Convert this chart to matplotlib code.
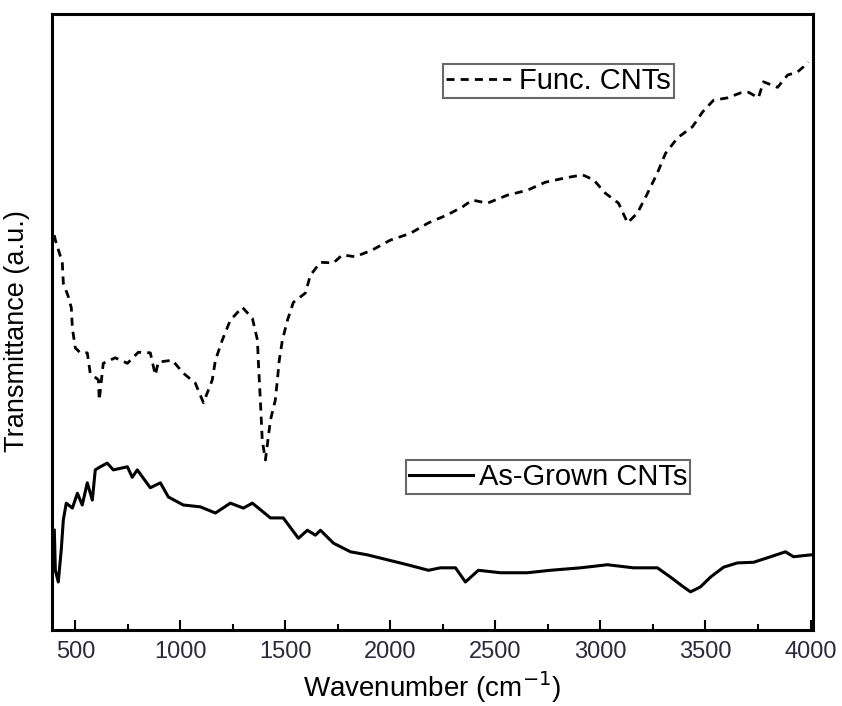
import numpy as np
import matplotlib
matplotlib.use("Agg")
import matplotlib.pyplot as plt

# FTIR spectra
func_wn = [400, 405, 438, 443, 467, 481, 486, 500, 524, 557, 571, 610, 614, 633, 690, 748,
           800, 857, 881, 895, 962, 1014, 1071, 1110, 1152, 1167, 1200, 1238, 1295, 1343,
           1367, 1371, 1381, 1390, 1405, 1429, 1452, 1462, 1471, 1486, 1510, 1538, 1595,
           1619, 1667, 1729, 1771, 1833, 1914, 2000, 2095, 2181, 2271, 2343, 2390, 2462,
           2557, 2652, 2738, 2833, 2914, 2967, 3024, 3086, 3129, 3176, 3224, 3271, 3310,
           3367, 3438, 3486, 3538, 3605, 3667, 3705, 3752, 3776, 3843, 3891, 3938, 3976, 3990]
func_t = [64.1, 63.3, 59.7, 56.3, 54.1, 52.3, 49.0, 45.8, 45.0, 45.0, 41.7, 40.6, 37.3, 43.3,
          44.2, 43.3, 45.1, 45.0, 41.4, 43.5, 43.8, 41.7, 40.1, 36.9, 40.6, 43.8, 47.1, 50.3,
          52.4, 50.6, 47.1, 43.8, 37.3, 30.8, 27.6, 34.1, 37.3, 40.6, 43.8, 47.1, 50.3, 53.2,
          54.7, 57.6, 59.7, 59.6, 60.9, 60.6, 61.7, 63.3, 64.4, 66.1, 67.4, 68.7, 69.8, 69.3,
          70.6, 71.4, 72.7, 73.4, 73.9, 73.1, 70.9, 69.3, 66.1, 67.7, 70.9, 74.2, 77.4, 79.9,
          81.7, 84.1, 86.0, 86.4, 87.2, 87.3, 86.4, 89.0, 88.1, 90.1, 90.6, 91.7, 92.2]

grown_wn = [400, 405, 419, 433, 443, 457, 486, 510, 533, 557, 581, 595, 619, 652, 681, 748,
            771, 795, 857, 905, 943, 1014, 1095, 1167, 1238, 1300, 1343, 1429, 1490, 1562,
            1605, 1643, 1667, 1729, 1810, 1891, 1986, 2081, 2181, 2238, 2310, 2357, 2419,
            2524, 2652, 2762, 2905, 3033, 3157, 3271, 3333, 3395, 3429, 3476, 3524, 3586,
            3652, 3729, 3810, 3881, 3919, 4000]
grown_t = [16.2, 9.7, 7.8, 13.0, 17.9, 20.6, 19.8, 22.2, 20.3, 23.9, 21.1, 26.0, 26.5, 27.1,
           26.0, 26.5, 24.8, 26.0, 23.1, 23.9, 21.6, 20.3, 20.0, 19.0, 20.6, 19.8, 20.6, 18.2,
           18.2, 14.9, 16.2, 15.4, 16.2, 14.1, 12.7, 12.2, 11.4, 10.6, 9.7, 10.1, 10.1, 7.8,
           9.7, 9.3, 9.3, 9.7, 10.1, 10.6, 10.1, 10.1, 8.6, 7.0, 6.2, 7.0, 8.6, 10.2, 10.9,
           11.0, 11.9, 12.7, 11.9, 12.2]

x_ticks = [500, 1000, 1500, 2000, 2500, 3000, 3500, 4000]

plt.rcParams['font.family'] = ['Liberation Sans', 'DejaVu Sans']

fig = plt.figure(figsize=(8.42, 7.06), dpi=100)
ax = fig.add_axes([0.062, 0.1076, 0.9036, 0.8725])

l1, = ax.plot(func_wn, func_t, color='black', lw=2.0, linestyle=(0, (2.9, 2.2)),
              label='Func. CNTs')
l2, = ax.plot(grown_wn, grown_t, color='black', lw=2.2, label='As-Grown CNTs')

ax.set_xlim(390, 4012)
ax.set_ylim(0, 100)
ax.set_xticks(x_ticks)
ax.set_xticks(np.arange(750, 4000, 500), minor=True)
ax.set_yticks([])
ax.tick_params(axis='x', which='major', direction='in', length=7, width=1.5, pad=8,
               labelsize=17, labelcolor='#2a2a3a')
ax.tick_params(axis='x', which='minor', direction='in', length=4, width=1.5)
for sp in ax.spines.values():
    sp.set_linewidth(2.2)

ax.set_xlabel('Wavenumber (cm$^{-1}$)', fontsize=20, labelpad=4)
ax.set_ylabel('Transmittance (a.u.)', fontsize=19.5)
ax.yaxis.set_label_coords(-0.029, 0.485)

leg1 = ax.legend(handles=[l1], loc='upper left', bbox_to_anchor=(0.514, 0.919),
                 fontsize=21, frameon=True, fancybox=False, edgecolor='#444444',
                 handlelength=2.4, handletextpad=0.1, borderpad=0.1, borderaxespad=0)
leg1.get_frame().set_linewidth(1.5)
ax.add_artist(leg1)
leg2 = ax.legend(handles=[l2], loc='upper left', bbox_to_anchor=(0.465, 0.276),
                 fontsize=21, frameon=True, fancybox=False, edgecolor='#444444',
                 handlelength=2.2, handletextpad=0.2, borderpad=0.1, borderaxespad=0)
leg2.get_frame().set_linewidth(1.5)

fig.savefig('out.png', dpi=100)
